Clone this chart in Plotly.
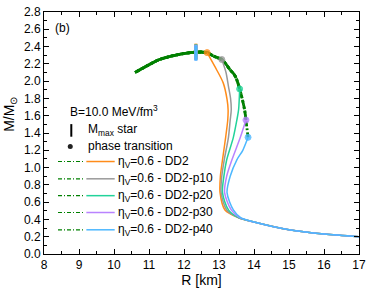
import plotly.graph_objects as go

# ---- data ----
names = ["DD2", "DD2-p10", "DD2-p20", "DD2-p30", "DD2-p40"]
colors = ["#FF8C1A", "#999999", "#22D39A", "#B983FF", "#4DB8FF"]

R_had = [
    [17.0, 16.0, 15.0, 14.0, 13.56, 13.17, 13.03, 13.04, 13.10, 13.19, 13.25, 13.26, 13.23, 13.12, 12.88, 12.66],
    [17.0, 16.0, 15.0, 14.0, 13.56, 13.22, 13.06, 13.08, 13.15, 13.27, 13.32, 13.35, 13.33, 13.27, 13.20, 13.08],
    [17.0, 16.0, 15.0, 14.0, 13.56, 13.27, 13.10, 13.14, 13.22, 13.41, 13.51, 13.56, 13.59],
    [17.0, 16.0, 15.0, 14.0, 13.59, 13.35, 13.16, 13.22, 13.37, 13.61, 13.77],
    [17.0, 16.0, 15.0, 14.0, 13.62, 13.41, 13.23, 13.32, 13.51, 13.68, 13.83],
]
M_had = [
    [0.20, 0.23, 0.28, 0.37, 0.42, 0.51, 0.71, 0.90, 1.09, 1.35, 1.55, 1.67, 1.79, 1.98, 2.17, 2.33],
    [0.20, 0.23, 0.28, 0.37, 0.42, 0.51, 0.71, 0.90, 1.09, 1.35, 1.55, 1.67, 1.80, 1.94, 2.10, 2.25],
    [0.20, 0.23, 0.28, 0.37, 0.42, 0.51, 0.71, 0.90, 1.09, 1.35, 1.55, 1.67, 1.91],
    [0.20, 0.23, 0.28, 0.37, 0.42, 0.51, 0.71, 0.90, 1.09, 1.35, 1.55],
    [0.20, 0.23, 0.28, 0.37, 0.42, 0.51, 0.71, 0.90, 1.09, 1.20, 1.35],
]
R_hyb = [13.83, 13.80, 13.77, 13.73, 13.59, 13.46, 13.32, 13.08, 12.84, 12.66, 12.34, 11.87, 11.30, 11.00, 10.60]
M_hyb = [1.35, 1.45, 1.55, 1.67, 1.91, 2.06, 2.13, 2.25, 2.29, 2.33, 2.335, 2.31, 2.25, 2.19, 2.10]
hyb_start = [9, 7, 4, 2, 0]
R_max = [12.34, 12.34, 12.34, 12.34, 12.34]
M_max = [2.345, 2.34, 2.335, 2.33, 2.325]

x_ticks = [8, 9, 10, 11, 12, 13, 14, 15, 16, 17]
y_ticks = [0.0, 0.2, 0.4, 0.6, 0.8, 1.0, 1.2, 1.4, 1.6, 1.8, 2.0, 2.2, 2.4, 2.6, 2.8]

FONT = "Liberation Sans, Arial, sans-serif"
GREEN = "#008000"

fig = go.Figure()

for i in range(5):
    s = hyb_start[i]
    fig.add_trace(go.Scatter(x=R_hyb[s:], y=M_hyb[s:], mode="lines",
                             line=dict(color=GREEN, width=2.8, dash="5px,2px,2px,2px", shape="spline"),
                             showlegend=False, hoverinfo="skip"))
for i in range(5):
    fig.add_trace(go.Scatter(x=R_had[i], y=M_had[i], mode="lines",
                             line=dict(color=colors[i], width=1.5, shape="spline", smoothing=0.8),
                             showlegend=False, hoverinfo="skip"))
for i in range(5):
    fig.add_trace(go.Scatter(x=[R_had[i][-1]], y=[M_had[i][-1]], mode="markers",
                             marker=dict(symbol="circle", size=6, color=colors[i], opacity=0.8,
                                         line=dict(color=colors[i], width=1)),
                             showlegend=False, hoverinfo="skip"))
for i in range(5):
    fig.add_trace(go.Scatter(x=[R_max[i]], y=[M_max[i]], mode="markers",
                             marker=dict(symbol="line-ns", size=11,
                                         line=dict(color=colors[i], width=3)),
                             showlegend=False, hoverinfo="skip"))

# legend-like key drawn in data coordinates
row_y = [1.07, 0.87, 0.675, 0.48, 0.28]
shapes = []
annotations = []
for i in range(5):
    shapes.append(dict(type="line", xref="x", yref="y", x0=8.40, x1=9.15, y0=row_y[i], y1=row_y[i],
                       line=dict(color=GREEN, width=1.2, dash="4px,2px,1px,2px")))
    shapes.append(dict(type="line", xref="x", yref="y", x0=9.21, x1=10.02, y0=row_y[i], y1=row_y[i],
                       line=dict(color=colors[i], width=1.5)))
    annotations.append(dict(x=10.06, y=row_y[i], xref="x", yref="y", xanchor="left", yanchor="middle",
                            text="η<sub>V</sub>=0.6 - " + names[i], showarrow=False,
                            font=dict(size=12, color="black", family=FONT)))

fig.add_trace(go.Scatter(x=[8.78], y=[1.43], mode="markers",
                         marker=dict(symbol="line-ns", size=9, line=dict(color="black", width=2)),
                         showlegend=False, hoverinfo="skip"))
fig.add_trace(go.Scatter(x=[8.75], y=[1.245], mode="markers",
                         marker=dict(symbol="circle", size=5, color="#222222"),
                         showlegend=False, hoverinfo="skip"))

annotations += [
    dict(x=8.69, y=1.66, xref="x", yref="y", xanchor="left", yanchor="middle",
         text="B=10.0 MeV/fm<sup>3</sup>", showarrow=False, font=dict(size=12, family=FONT, color="black")),
    dict(x=9.2, y=1.43, xref="x", yref="y", xanchor="left", yanchor="middle",
         text="M<sub>max</sub> star", showarrow=False, font=dict(size=12, family=FONT, color="black")),
    dict(x=9.2, y=1.245, xref="x", yref="y", xanchor="left", yanchor="middle",
         text="phase transition", showarrow=False, font=dict(size=12, family=FONT, color="black")),
    dict(x=8.25, y=2.62, xref="x", yref="y", xanchor="left", yanchor="middle",
         text="(b)", showarrow=False, font=dict(size=12, family=FONT, color="black")),
    dict(x=-0.108, y=0.579, xref="paper", yref="paper", xanchor="center", yanchor="middle",
         text="M/M<sub>⊙</sub>", textangle=-90, showarrow=False,
         font=dict(size=14, family=FONT, color="black")),
]

axis_common = dict(showline=True, linecolor="black", linewidth=1, mirror="allticks",
                   ticks="inside", ticklen=5, tickwidth=1, tickcolor="black",
                   showgrid=False, zeroline=False, automargin=False,
                   tickfont=dict(size=12, family=FONT, color="black"))

fig.update_layout(
    template="none",
    width=374, height=289,
    margin=dict(l=44, r=15, t=12, b=35, pad=0),
    paper_bgcolor="white", plot_bgcolor="white",
    shapes=shapes, annotations=annotations,
    xaxis=dict(range=[8, 17], tickvals=x_ticks, ticktext=[str(v) for v in x_ticks],
               minor=dict(ticks="inside", ticklen=3, dtick=0.5, tickcolor="black"),
               title=dict(text="R [km]", font=dict(size=14, family=FONT, color="black"), standoff=0),
               **axis_common),
    yaxis=dict(range=[0, 2.8], tickvals=y_ticks, ticktext=[f"{v:.1f}" for v in y_ticks],
               minor=dict(ticks="inside", ticklen=3, dtick=0.1, tickcolor="black"),
               **axis_common),
)

fig.write_html("out.html", config={"displayModeBar": False},
               post_script="document.body.style.margin='0';document.body.style.overflow='hidden';")
